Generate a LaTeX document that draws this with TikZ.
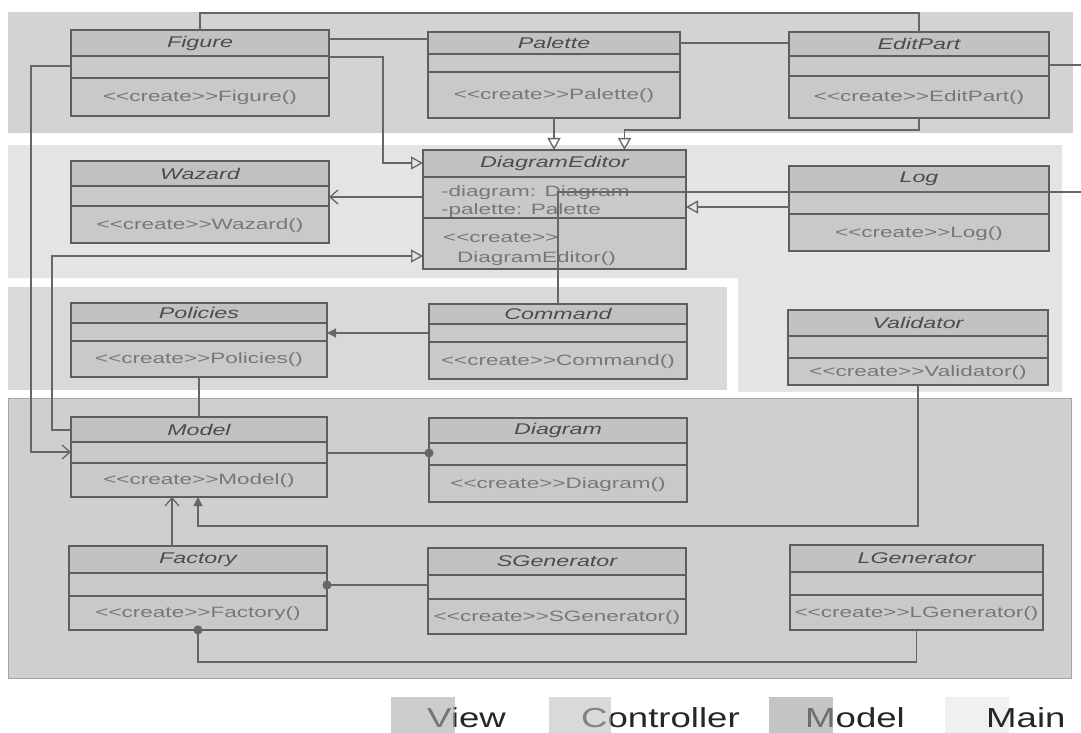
\documentclass[tikz,border=0pt]{standalone}
\usepackage{fontspec}
\usetikzlibrary{arrows.meta}
\newfontfamily\umlfont[FakeStretch=1.5]{Liberation Sans}
\newfontfamily\legfont[FakeStretch=1.33]{Liberation Sans}
\newcommand\lcreate{<\kern0pt<create>\kern0pt>}
\definecolor{viewband}{HTML}{D3D3D3}
\definecolor{ctrlband}{HTML}{E4E4E4}
\definecolor{cmdband}{HTML}{D9D9D9}
\definecolor{modelband}{HTML}{CFCFCF}
\definecolor{modelborder}{HTML}{A4A4A4}
\definecolor{boxfill}{HTML}{C9C9C9}
\definecolor{titlefill}{HTML}{C2C2C2}
\definecolor{boxline}{HTML}{5E5E5E}
\definecolor{linecol}{HTML}{666666}
\definecolor{titlecol}{HTML}{4C4C4C}
\definecolor{methcol}{HTML}{777777}
\definecolor{swview}{HTML}{ABABAB}
\definecolor{swctrl}{HTML}{C1C1C1}
\definecolor{swmodel}{HTML}{9D9D9D}
\definecolor{swmain}{HTML}{F0F0F0}
\tikzset{
  classbox/.style={rectangle, draw=boxline, fill=boxfill, line width=1.2pt, inner sep=0pt, outer sep=0pt},
  divider/.style={draw=boxline, line width=1.2pt},
  ttl/.style={font=\umlfont\itshape\fontsize{15.5}{18}\selectfont, text=titlecol, inner sep=0pt},
  mth/.style={font=\umlfont\fontsize{15}{18}\selectfont, text=methcol, inner sep=0pt},
  conn/.style={draw=linecol, line width=1.3pt},
  tri/.style={conn, -{Triangle[open, length=12pt, width=13pt]}},
  barb/.style={conn, -{Straight Barb[length=8pt, width=14pt]}},
  sfill/.style={conn, -{Triangle[length=9pt, width=9pt]}},
  dotend/.style={conn, -{Circle[length=9pt]}, shorten >=-4.5pt},
  leg/.style={font=\legfont\fontsize{27.5}{30}\selectfont, text=black!85, inner sep=0pt, anchor=base west},
}
% name, x1, y1, x2, y2, divider1, divider2, title, methods
\newcommand\umlclass[9]{%
  \node[classbox, minimum width={#4-#2}, minimum height={#5-#3}] (#1) at ({(#2+#4)/2},{(#3+#5)/2}) {};
  \fill[titlefill] (#2,#3) rectangle (#4,#6);
  \draw[divider] (#2,#6) -- (#4,#6) (#2,#7) -- (#4,#7);
  \draw[divider] (#1.north west) rectangle (#1.south east);
  \node[ttl] (#1-t) at ({(#2+#4)/2},{(#3+#6)/2}) {#8};
  \node[mth] (#1-m) at ({(#2+#4)/2},{(#7+#5)/2+1}) {#9};
}
\begin{document}
\begin{tikzpicture}[x=1pt, y=-1pt]
\useasboundingbox (0,0) rectangle (1081,733);
\fill[white] (0,0) rectangle (1081,733);
% bands
\fill[viewband] (8,12) rectangle (1073,133);
\fill[ctrlband] (8,145) -- (1062,145) -- (1062,392) -- (738,392) -- (738,278) -- (8,278) -- cycle;
\fill[cmdband] (8,287) rectangle (727,390);
\filldraw[fill=modelband, draw=modelborder, line width=1pt] (8,398) rectangle (1071,678);

% classes
\umlclass{figure}{71}{30}{329}{116}{56}{78}{Figure}{\lcreate Figure()}
\umlclass{palette}{428}{32}{680}{118}{54}{72}{Palette}{\lcreate Palette()}
\umlclass{editpart}{789}{32}{1049}{118}{56}{76}{EditPart}{\lcreate EditPart()}
\umlclass{wazard}{71}{161}{329}{243}{186}{206}{Wazard}{\lcreate Wazard()}
\umlclass{deditor}{423}{150}{686}{269}{177}{218}{DiagramEditor}{}
\node[mth, anchor=base west] (de-a1) at (441,196) {-diagram: Diagram};
\node[mth, anchor=base west] (de-a2) at (441,214) {-palette: Palette};
\node[mth, anchor=base west] (de-m1) at (443,242) {\lcreate};
\node[mth, anchor=base west] (de-m2) at (457,262) {DiagramEditor()};
\umlclass{log}{789}{166}{1049}{251}{192}{214}{Log}{\lcreate Log()}
\umlclass{policies}{71}{303}{327}{377}{323}{341}{Policies}{\lcreate Policies()}
\umlclass{command}{429}{304}{687}{379}{324}{342}{Command}{\lcreate Command()}
\umlclass{validator}{788}{310}{1048}{385}{336}{358}{Validator}{\lcreate Validator()}
\umlclass{model}{71}{417}{327}{497}{442}{463}{Model}{\lcreate Model()}
\umlclass{diagram}{429}{418}{687}{502}{443}{465}{Diagram}{\lcreate Diagram()}
\umlclass{factory}{69}{546}{327}{630}{573}{596}{Factory}{\lcreate Factory()}
\umlclass{sgen}{428}{548}{686}{634}{575}{599}{SGenerator}{\lcreate SGenerator()}
\umlclass{lgen}{790}{545}{1043}{630}{572}{595}{LGenerator}{\lcreate LGenerator()}

% connectors
\coordinate (edgeA) at (1081,192);
\coordinate (edgeB) at (1081,65);
\draw[conn] (figure.north) -- ++(0,-17) -| (editpart.north);
\draw[conn] (figure.east |- 0,39) -- (palette.west |- 0,39);
\draw[conn] (palette.east |- 0,43) -- (editpart.west |- 0,43);
\draw[tri] (figure.east |- 0,57) -- (383,57) -- (383,163) -- (deditor.west |- 0,163);
\draw[tri] (palette.south) -- (palette.south |- deditor.north);
\draw[tri] (editpart.south) -- (editpart.south |- 0,130) -| ([xshift=70pt]deditor.north);
\draw[barb] (deditor.west |- 0,197) -- (wazard.east |- 0,197);
\draw[tri] (model.west |- 0,430) -- (52,430) -- (52,256) -- (deditor.west |- 0,256);
\draw[barb] (figure.west |- 0,66) -- (31,66) -- (31,452) -- (model.west |- 0,452);
\draw[conn] (command.north) |- (edgeA);
\draw[conn] (editpart.east |- 0,65) -- (edgeB);
\draw[tri] (log.west |- 0,207) -- (deditor.east |- 0,207);
\draw[sfill] (command.west |- 0,333) -- (policies.east |- 0,333);
\draw[conn] (policies.south) -- (model.north);
\draw[dotend] (model.east |- 0,453) -- (diagram.west |- 0,453);
\draw[barb] (factory.north -| 172,0) -- (model.south -| 172,0);
\draw[sfill] (validator.south) |- (198,526) -- (model.south -| 198,0);
\draw[dotend] (sgen.west |- 0,585) -- (factory.east |- 0,585);
\draw[dotend] (lgen.south) |- (198,662) -- (factory.south);

% legend
\fill[swmain] (945,697) rectangle (1009,733);
\node[leg] (lview) at (427,727) {View};
\node[leg] (lctrl) at (581,727) {Controller};
\node[leg] (lmodel) at (805,727) {Model};
\node[leg] (lmain) at (986,727) {Main};
\fill[swview, fill opacity=0.6] (391,697) rectangle (455,733);
\fill[swctrl, fill opacity=0.6] (549,697) rectangle (611,733);
\fill[swmodel, fill opacity=0.6] (769,697) rectangle (833,733);
\end{tikzpicture}
\end{document}
